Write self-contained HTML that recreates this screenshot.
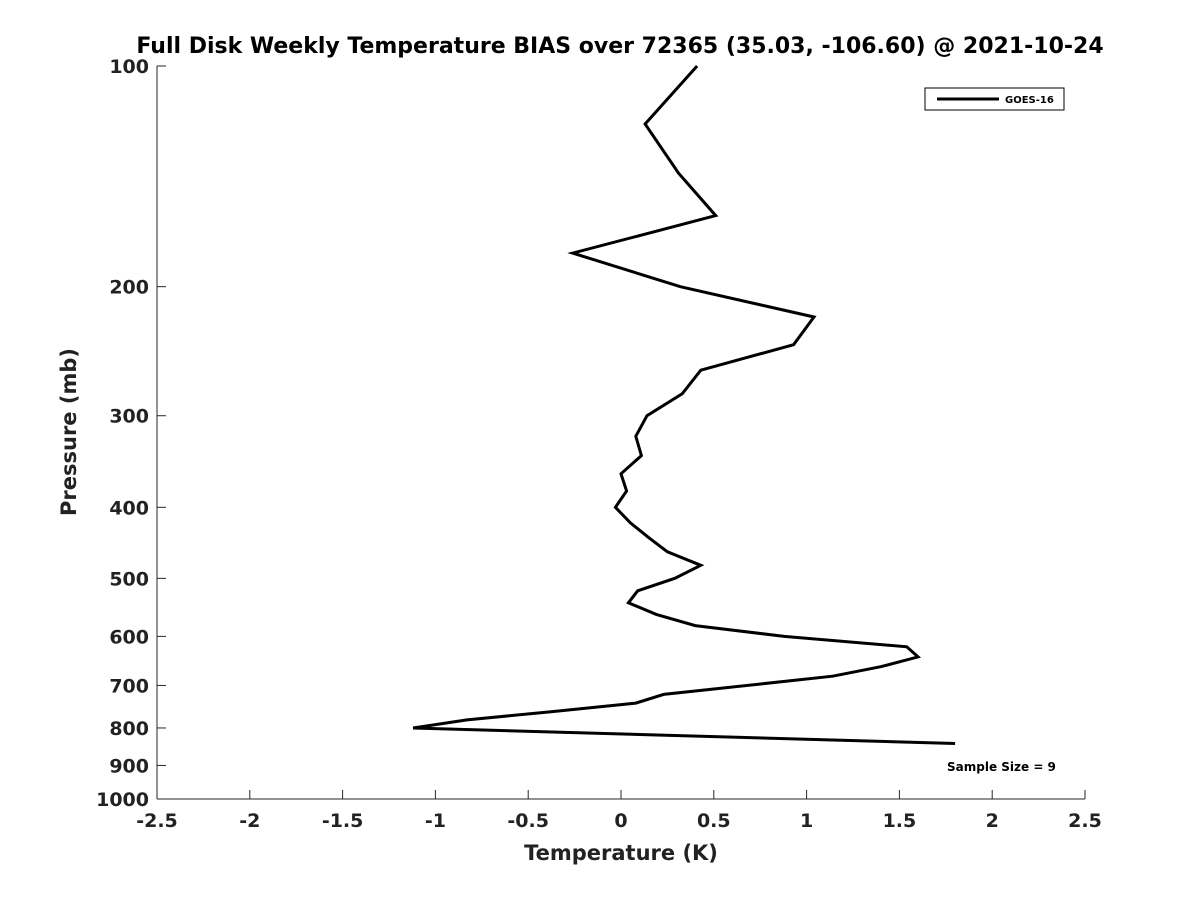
<!DOCTYPE html>
<html><head><meta charset="utf-8"><style>
body{margin:0;background:#fff;}
svg text{font-family:"DejaVu Sans","Liberation Sans",sans-serif;font-weight:bold;fill:#222;}
</style></head><body>
<svg id="chart" width="1200" height="900" xmlns="http://www.w3.org/2000/svg">
<rect width="1200" height="900" fill="#fff"/>
<text x="620" y="53" text-anchor="middle" font-size="22" style="fill:#000">Full Disk Weekly Temperature BIAS over 72365 (35.03, -106.60) @ 2021-10-24</text>
<g id="axes"></g>
<text x="621" y="860" text-anchor="middle" font-size="21">Temperature (K)</text>
<text transform="translate(76,432) rotate(-90)" text-anchor="middle" font-size="21">Pressure (mb)</text>
<g>
<rect x="925" y="88" width="139" height="22" fill="#fff" stroke="#000" stroke-width="1"/>
<line x1="937" y1="99" x2="999" y2="99" stroke="#000" stroke-width="3"/>
<text x="1005" y="103" font-size="10" style="fill:#000">GOES-16</text>
</g>
<text x="947" y="771" font-size="12" style="fill:#000">Sample Size = 9</text>
</svg>
<script>
const temps = [0.41,0.13,0.31,0.51,-0.26,0.32,1.04,0.93,0.43,0.33,0.14,0.08,0.11,0.0,0.03,-0.03,0.05,0.15,0.25,0.43,0.29,0.09,0.04,0.19,0.40,0.88,1.54,1.60,1.40,1.14,0.23,0.08,-0.37,-0.83,-1.12,1.80];
const pressures = [100,120,140,160,180,200,220,240,260,280,300,320,340,360,380,400,420,440,460,480,500,520,540,560,580,600,620,640,660,680,720,740,760,780,800,840];
const xTicks = [-2.5,-2,-1.5,-1,-0.5,0,0.5,1,1.5,2,2.5];
const yTicks = [100,200,300,400,500,600,700,800,900,1000];
const NS="http://www.w3.org/2000/svg";
const X0=157,X1=1085,Y0=66,Y1=799;
function sx(t){return X0+(t+2.5)/5*(X1-X0);}
function sy(p){return Y0+Math.log10(p/100)*(Y1-Y0);}
const svg=document.getElementById('chart');
const g=document.getElementById('axes');
function mk(tag,attrs){const e=document.createElementNS(NS,tag);for(const k in attrs)e.setAttribute(k,attrs[k]);return e;}
const xa=mk('line',{x1:X0,y1:Y1,x2:X1,y2:Y1,stroke:'#262626','stroke-width':1});


g.appendChild(xa);
const ya=mk('line',{x1:X0,y1:Y0,x2:X0,y2:Y1,stroke:'#262626','stroke-width':1});


g.appendChild(ya);
xTicks.forEach(t=>{
 const x=sx(t);
 const tk=mk('line',{x1:x,y1:Y1,x2:x,y2:Y1-9,stroke:'#262626'});
 
 
 g.appendChild(tk);
 const tx=mk('text',{x:x,y:Y1+28,'text-anchor':'middle','font-size':19});
 tx.textContent=String(t);
 
 
 g.appendChild(tx);
});
yTicks.forEach(p=>{
 const y=sy(p);
 const tk=mk('line',{x1:X0,y1:y,x2:X0+9,y2:y,stroke:'#262626'});
 
 
 g.appendChild(tk);
 const tx=mk('text',{x:X0-8,y:y+7,'text-anchor':'end','font-size':19});
 tx.textContent=String(p);
 
 
 g.appendChild(tx);
});
const pts=temps.map((t,i)=>sx(t).toFixed(1)+','+sy(pressures[i]).toFixed(1)).join(' ');
const line=mk('polyline',{points:pts,fill:'none',stroke:'#000','stroke-width':3,'stroke-linejoin':'miter'});


svg.appendChild(line);
</script>
</body></html>
